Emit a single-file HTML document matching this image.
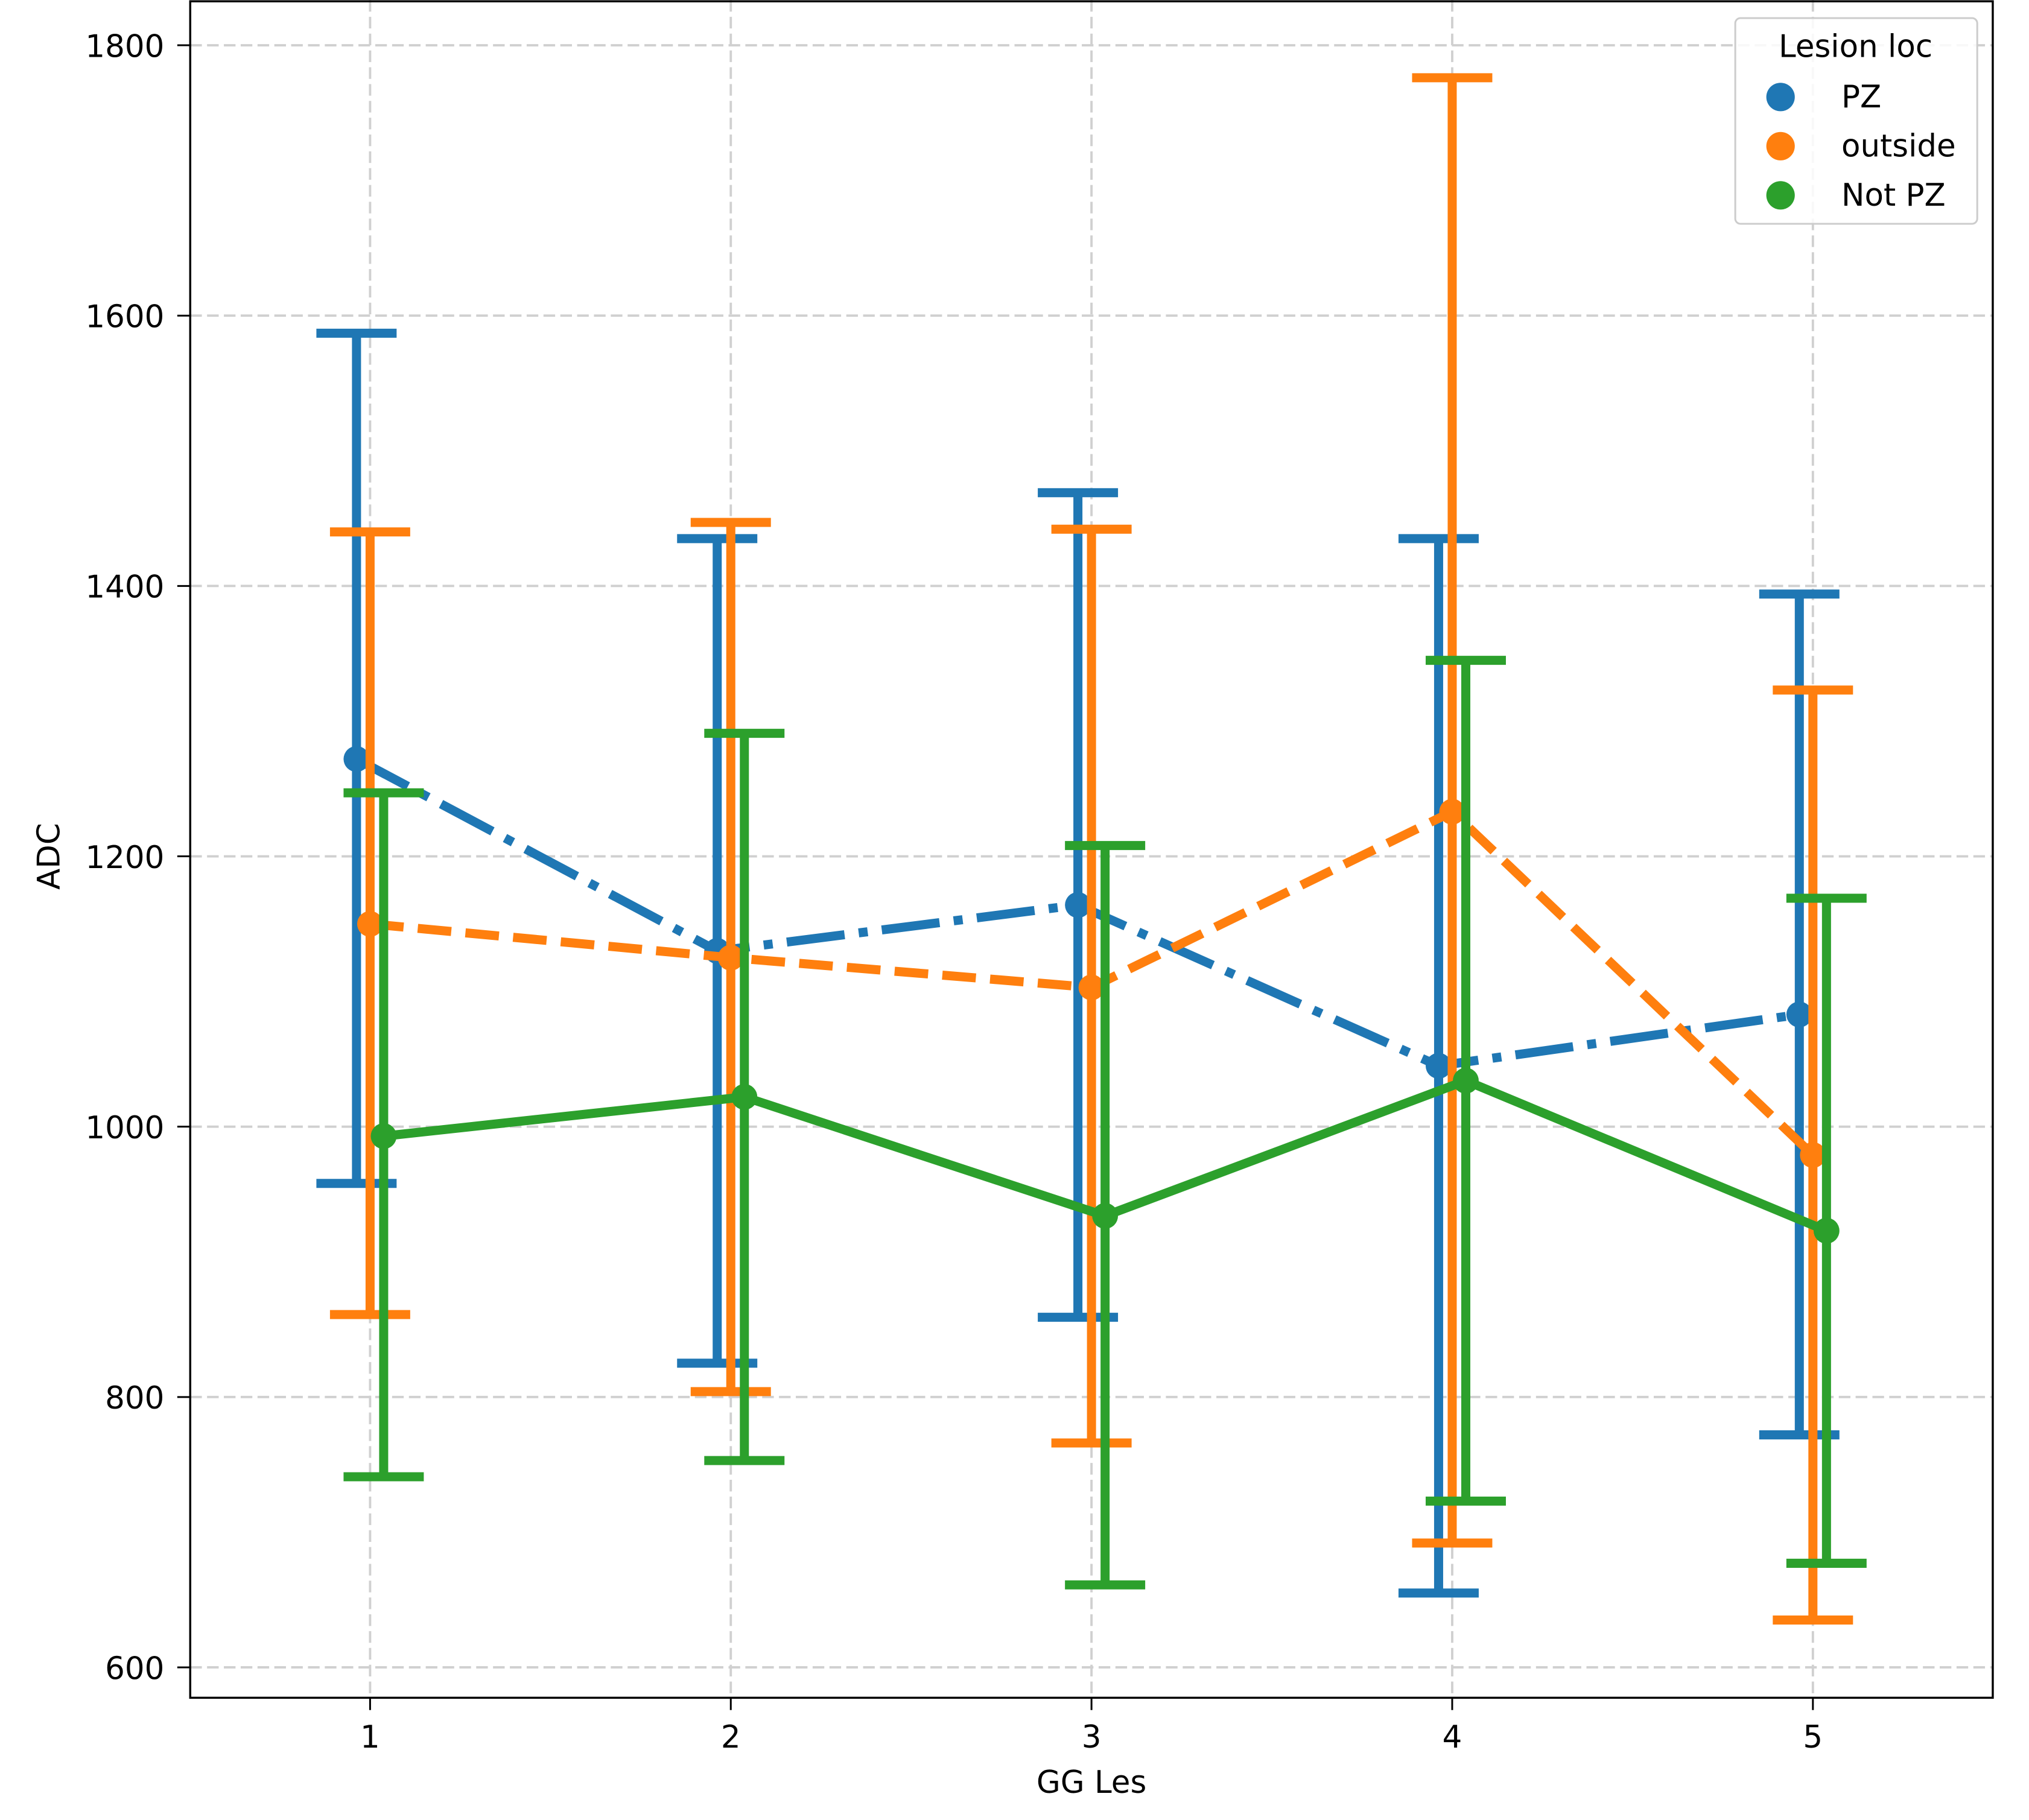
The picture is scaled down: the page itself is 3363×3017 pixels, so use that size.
<!DOCTYPE html>
<html><head><meta charset="utf-8"><style>
html,body{margin:0;padding:0;background:#fff;}
svg{display:block;font-family:"DejaVu Sans","Liberation Sans",sans-serif;}
</style></head><body>
<svg id="chart" width="3363" height="3017" viewBox="0 0 1568 1407" preserveAspectRatio="none" xmlns="http://www.w3.org/2000/svg">
<rect x="0" y="0" width="1568" height="1407" fill="#fff"/>
<g id="grid"></g>
<g id="series"></g>
<rect x="147" y="1" width="1393" height="1311.5" fill="none" stroke="#000" stroke-width="1.6"/>
<g id="ticks"></g>
<text x="843.5" y="1386" font-size="24" text-anchor="middle">GG Les</text>
<text x="46" y="662" font-size="24" text-anchor="middle" transform="rotate(-90 46 662)">ADC</text>
<g>
<rect x="1341" y="14" width="187" height="159" rx="4" fill="#fff" fill-opacity="0.85" stroke="#ccc" stroke-width="1.4"/>
<text x="1434" y="44" font-size="24" text-anchor="middle">Lesion loc</text>
<g><circle cx="1376" cy="75" r="11" fill="#1f77b4"/><text x="1423" y="83" font-size="24">PZ</text></g>
<g><circle cx="1376" cy="113" r="11" fill="#ff7f0e"/><text x="1423" y="121" font-size="24">outside</text></g>
<g><circle cx="1376" cy="151" r="11" fill="#2ca02c"/><text x="1423" y="159" font-size="24">Not PZ</text></g>
</g>
<script>
const categories = ["1","2","3","4","5"];
const yTicks = [600,800,1000,1200,1400,1600,1800];
const seriesNames = ["PZ","outside","Not PZ"];
const pzMean = [1272,1130,1164,1045,1083];
const pzLow = [958,825,859,655,772];
const pzHigh = [1587,1435,1469,1435,1394];
const outMean = [1150,1125,1103,1233,979];
const outLow = [861,804,766,692,635];
const outHigh = [1440,1447,1442,1776,1323];
const npMean = [993,1022,934,1034,923];
const npLow = [741,753,661,723,677];
const npHigh = [1247,1291,1208,1345,1169];

const NS="http://www.w3.org/2000/svg";
function xs(i){return 286+i*278.75;}
function ys(v){return 35+(1800-v)*209/200;}
function mk(tag,attrs,parent){const e=document.createElementNS(NS,tag);for(const k in attrs)e.setAttribute(k,attrs[k]);parent.appendChild(e);return e;}
const grid=document.getElementById('grid'),ticks=document.getElementById('ticks'),ser=document.getElementById('series');
categories.forEach((c,i)=>{
  const g=mk('line',{x1:xs(i),x2:xs(i),y1:0,y2:1312,stroke:'#d0d0d0','stroke-width':1.8,'stroke-dasharray':'9,4'},grid);
  
  
  const t=mk('line',{x1:xs(i),x2:xs(i),y1:1312,y2:1322,stroke:'#000','stroke-width':1.4},ticks);
  
  
  const l=mk('text',{x:xs(i),y:1351,'font-size':24,'text-anchor':'middle'},ticks);
  l.textContent=c;
  
  
});
yTicks.forEach(v=>{
  const g=mk('line',{x1:147,x2:1540,y1:ys(v),y2:ys(v),stroke:'#d0d0d0','stroke-width':1.8,'stroke-dasharray':'9,4'},grid);
  
  
  const t=mk('line',{x1:137,x2:147,y1:ys(v),y2:ys(v),stroke:'#000','stroke-width':1.4},ticks);
  
  
  const l=mk('text',{x:127,y:ys(v)+9,'font-size':24,'text-anchor':'end'},ticks);
  l.textContent=v;
  
  
});
const defs=[
  {name:'pz',mean:pzMean,lo:pzLow,hi:pzHigh,color:'#1f77b4',off:-10.5,dash:'45,11,7,11'},
  {name:'outside',mean:outMean,lo:outLow,hi:outHigh,color:'#ff7f0e',off:0,dash:'26,11'},
  {name:'not-pz',mean:npMean,lo:npLow,hi:npHigh,color:'#2ca02c',off:10.5,dash:''}
];
defs.forEach(d=>{
  const g=mk('g',{},ser);
  
  
  d.mean.forEach((m,i)=>{
    const x=xs(i)+d.off;
    const e=mk('path',{d:`M${x-31},${ys(d.hi[i])}H${x+31}M${x},${ys(d.hi[i])}V${ys(d.lo[i])}M${x-31},${ys(d.lo[i])}H${x+31}`,stroke:d.color,'stroke-width':7,fill:'none'},g);
    
    
  });
  const pts=d.mean.map((m,i)=>(xs(i)+d.off)+','+ys(m)).join(' ');
  const pl=mk('polyline',{points:pts,fill:'none',stroke:d.color,'stroke-width':7,'stroke-dasharray':d.dash},g);
  
  
  d.mean.forEach((m,i)=>{
    const c=mk('circle',{cx:xs(i)+d.off,cy:ys(m),r:10,fill:d.color},g);
    
    
  });
});
</script>
</svg>
</body></html>
